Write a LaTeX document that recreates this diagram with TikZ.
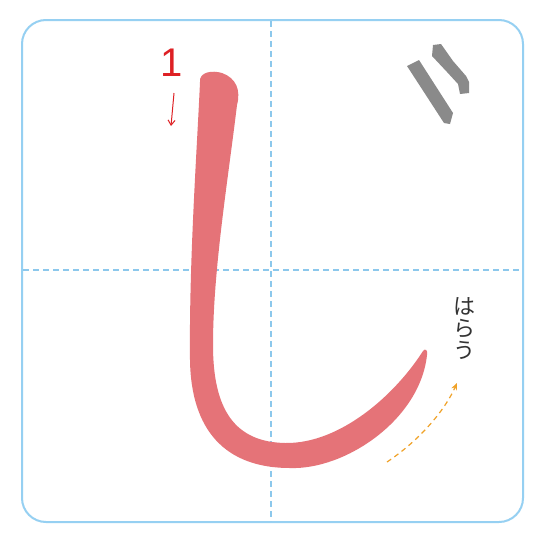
\documentclass[tikz,border=0pt]{standalone}
\usepackage{fontspec}
\newfontfamily\jpfont{Noto Sans CJK JP}
\newfontfamily\numfont{Liberation Sans}
\usetikzlibrary{arrows.meta}
\definecolor{marco}{RGB}{150,208,242}
\definecolor{guia}{RGB}{140,200,236}
\definecolor{trazo}{RGB}{229,115,120}
\definecolor{rojo}{RGB}{222,32,36}
\definecolor{gris}{RGB}{138,138,138}
\definecolor{naranja}{RGB}{240,162,40}
\begin{document}
\begin{tikzpicture}[x=1pt, y=-1pt,
        caja/.style={draw=marco, line width=2pt, rounded corners=24pt},
        guialinea/.style={draw=guia, line width=1.2pt, dash pattern=on 6pt off 4pt},
        numero/.style={text=rojo, font=\numfont\fontsize{40}{40}\selectfont, inner sep=0pt},
        kana/.style={text=black!80, font=\jpfont\fontsize{22}{24}\selectfont, inner sep=0pt, align=center},
        flecha/.style={draw=naranja, line width=1.2pt, dash pattern=on 5pt off 4pt, -{Stealth[length=7pt,width=6pt]}}
    ]
    \useasboundingbox (0,0) rectangle (546,546);
    \fill[white] (0,0) rectangle (546,546);

    % --- MARCO Y GUIAS ---
    \draw[caja] (22,20) rectangle (523,522);
    \coordinate (arriba) at (271,21);
    \coordinate (abajo) at (271,521);
    \coordinate (izq) at (23,270);
    \coordinate (der) at (522,270);
    \draw[guialinea] (arriba) -- (abajo);
    \draw[guialinea] (izq) -- (der);

    % --- TRAZO ---
    \fill[trazo] (200,82) .. controls (199,72) and (212,70) .. (222,73)
        .. controls (236,78) and (241,90) .. (237,105)
        .. controls (228,180) and (213,270) .. (213,345)
        .. controls (213,410) and (235,442) .. (285,443)
        .. controls (340,444) and (395,395) .. (423,351)
        .. controls (425,348) and (428,350) .. (427,355)
        .. controls (420,420) and (345,470) .. (290,468)
        .. controls (225,468) and (191,430) .. (190,360)
        .. controls (189,260) and (197,150) .. (200,82) -- cycle;

    % --- ORDEN ---
    \node[numero] (uno) at (172,63) {1};
    \coordinate (ini) at (174,93);
    \coordinate (fin) at (171,126);
    \draw[rojo, line width=1pt, -{Straight Barb[length=5pt,width=7pt]}] (ini) -- (fin);

    % --- MARCAS ---
    \fill[gris] (407,66) -- (419,60) -- (453,113) -- (450,124) -- (444,123) -- cycle;
    \fill[gris] (432,56) -- (433,45) -- (441,44) -- (453,61) -- (466,76) -- (469,82) -- (469,93)
        -- (460,94) -- (458,84) -- (447,72) -- cycle;

    % --- HARAU ---
    \node[kana] (harau) at (464,329) {は\\[-2pt]ら\\[-2pt]う};
    \coordinate (desde) at (387,462);
    \coordinate (hasta) at (457,383);
    \draw[flecha] (desde) .. controls (420,440) and (445,410) .. (hasta);
\end{tikzpicture}
\end{document}
